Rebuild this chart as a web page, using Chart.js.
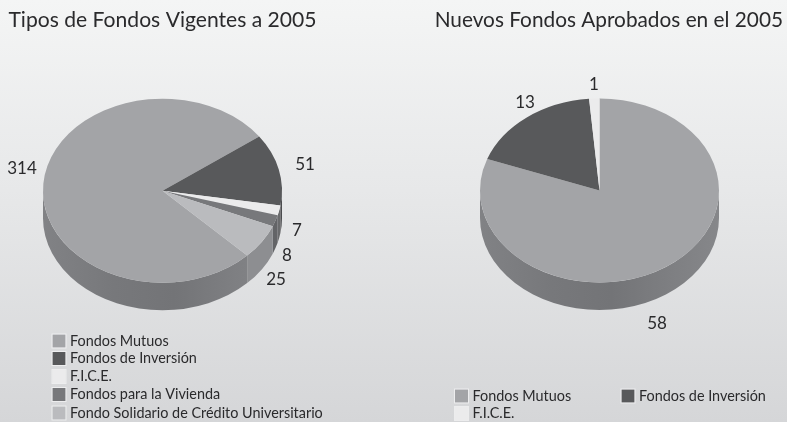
<!DOCTYPE html>
<html><head><meta charset="utf-8">
<script src="https://cdn.jsdelivr.net/npm/chart.js@4"></script>
<style>
html,body{margin:0;padding:0;width:787px;height:422px;overflow:hidden}
body{background:linear-gradient(180deg,#f4f5f5 0%,#e7e8e9 45%,#d5d6d8 100%);position:relative}
canvas{position:absolute;top:0}
</style></head><body>
<canvas id="c1" width="325" height="422" style="left:0;width:325px;height:422px"></canvas>
<canvas id="c2" width="367" height="422" style="left:416px;width:367px;height:422px"></canvas>
<script>
const categoriesVigentes = ["Fondos Mutuos","Fondos de Inversión","F.I.C.E.","Fondos para la Vivienda","Fondo Solidario de Crédito Universitario"];
const valuesVigentes = [314,51,7,8,25];
const categoriesNuevos = ["Fondos Mutuos","Fondos de Inversión","F.I.C.E."];
const valuesNuevos = [58,13,1];
const topColors = ["#a3a4a7","#58595b","#ebebec","#77787b","#babbbe"];
const wallColors = ["#7a7b7e","#4b4c4e","#6a6b6d","#636467","#8d8e91"];
const titleVigentes = "Tipos de Fondos Vigentes a 2005";
const titleNuevos = "Nuevos Fondos Aprobados en el 2005";

const FONT = "Lato, 'Open Sans', sans-serif";
const INK = "#2a2a2c";
const SQUASH = 0.77, DEPTH = 27.5, RADIUS = 119.5;

function wallSpans(a,b){
  const spans=[];
  for(const k of [-1,0,1]){
    const lo=Math.max(a,k*2*Math.PI), hi=Math.min(b,k*2*Math.PI+Math.PI);
    if(hi>lo) spans.push([lo,hi]);
  }
  return spans;
}
const pie3d = {
  id:'pie3d',
  beforeDatasetsDraw(chart){
    const ctx=chart.ctx, arcs=chart.getDatasetMeta(0).data;
    const cx=arcs[0].x, cy=arcs[0].y, rx=arcs[0].outerRadius, ry=rx*SQUASH;
    ctx.save();
    arcs.forEach((arc,i)=>{
      for(const [a,b] of wallSpans(arc.startAngle,arc.endAngle)){
        let fill=wallColors[i];
        if(i===0){
          const g=ctx.createLinearGradient(cx-rx,0,cx+rx,0);
          g.addColorStop(0,"#818285");g.addColorStop(.3,"#77787b");g.addColorStop(.55,"#737477");
          g.addColorStop(.8,"#7e7f82");g.addColorStop(1,"#86878a");
          fill=g;
        }
        ctx.beginPath();
        ctx.ellipse(cx,cy,rx,ry,0,a,b,false);
        ctx.ellipse(cx,cy+DEPTH,rx,ry,0,b,a,true);
        ctx.closePath();
        ctx.fillStyle=fill;ctx.fill();
      }
    });
    ctx.restore();
    ctx.save();
    ctx.translate(0,cy);ctx.scale(1,SQUASH);ctx.translate(0,-cy);
  },
  afterDatasetsDraw(chart){ chart.ctx.restore(); },
  afterDraw(chart,args,opts){
    const ctx=chart.ctx, ds=chart.data.datasets[0];
    ctx.save();
    ctx.fillStyle=INK;ctx.textAlign="center";ctx.textBaseline="middle";
    ctx.font="17px "+FONT;
    ds.data.forEach((v,i)=>{const p=opts.valueAt[i];ctx.fillText(String(v),p[0],p[1]);});
    ctx.textAlign="left";
    ctx.font=opts.legendFont+"px "+FONT;
    chart.data.labels.forEach((t,i)=>{
      const p=opts.legendAt[i];
      ctx.fillStyle=ds.backgroundColor[i];
      ctx.fillRect(p[0],p[1]-6.5,13,13);
      ctx.strokeStyle="rgba(255,255,255,.55)";ctx.lineWidth=1;
      ctx.strokeRect(p[0]-.5,p[1]-7,14,14);
      ctx.fillStyle=INK;
      ctx.fillText(t,p[0]+17.5,p[1]);
    });
    ctx.restore();
  }
};
function makePie(id,labels,values,title,align,opts){
  return new Chart(document.getElementById(id),{
    type:'pie',
    data:{labels,datasets:[{data:values,backgroundColor:topColors.slice(0,values.length),borderWidth:0,radius:RADIUS,rotation:opts.rotation}]},
    options:{
      responsive:false,animation:false,
      layout:{padding:{bottom:81}},
      plugins:{
        legend:{display:false},tooltip:{enabled:false},
        title:{display:true,text:title,align,color:INK,font:{family:FONT,size:opts.titleSize,weight:'normal',lineHeight:1.2},padding:{top:8,bottom:7}},
        pie3d:opts
      }
    },
    plugins:[pie3d]
  });
}
makePie('c1',categoriesVigentes,valuesVigentes,titleVigentes,'center',{
  rotation:134.9,titleSize:21.1,legendFont:14.4,
  valueAt:[[22,169],[305,165],[297,231],[287,256],[276,280]],
  legendAt:[[52.5,341],[52.5,358.5],[52.5,376.5],[52.5,394.5],[52.5,413]]
});
makePie('c2',categoriesNuevos,valuesNuevos,titleNuevos,'end',{
  rotation:0,titleSize:20.8,legendFont:14.4,
  valueAt:[[241,324],[109,103],[178,85]],
  legendAt:[[39,396],[205.5,396],[39,413.5]]
});
</script></body></html>
